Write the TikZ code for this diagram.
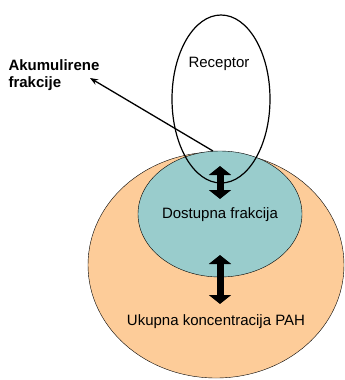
\documentclass[tikz,border=0pt]{standalone}
\usepackage{fontspec}
\setmainfont{Liberation Sans}
\usetikzlibrary{shapes.geometric,arrows.meta}
\definecolor{pahorange}{RGB}{253,204,153}
\definecolor{pahteal}{RGB}{153,204,204}
\begin{document}
\begin{tikzpicture}[x=1pt, y=-1pt, every node/.style={font=\fontsize{15}{17}\selectfont},
  dblarrow/.style={line width=7pt, {Triangle[width=22pt,length=9pt]}-{Triangle[width=22pt,length=9pt]}}]
\useasboundingbox (0,0) rectangle (345,380);
\node[draw, ellipse, fill=pahorange, minimum width=256pt, minimum height=226pt, inner sep=0pt] (total) at (216,265) {};
\node[draw, ellipse, fill=pahteal, minimum width=164pt, minimum height=126pt, inner sep=0pt] (avail) at (220,214) {};
\node[draw, ellipse, line width=1.2pt, minimum width=98pt, minimum height=168pt, inner sep=0pt] (rec) at (221,99) {};
\node (recl) at (219,64) {Receptor};
\node (availl) at (220,215) {Dostupna frakcija};
\node (totall) at (216,322) {Ukupna koncentracija PAH};
\node[align=left, font=\fontsize{15}{17}\selectfont\bfseries] (akum) at (54,75) {Akumulirene\\frakcije};
\coordinate (src) at (213,151);
\coordinate (tip) at (90,78);
\coordinate (a1) at (220,166);
\coordinate (a2) at (220,199);
\coordinate (b1) at (220,255);
\coordinate (b2) at (220,304);
\draw[-{Stealth[length=8pt,width=6pt]}, line width=1.3pt] (src) -- (tip);
\draw[dblarrow] (a1) -- (a2);
\draw[dblarrow] (b1) -- (b2);
\end{tikzpicture}
\end{document}
